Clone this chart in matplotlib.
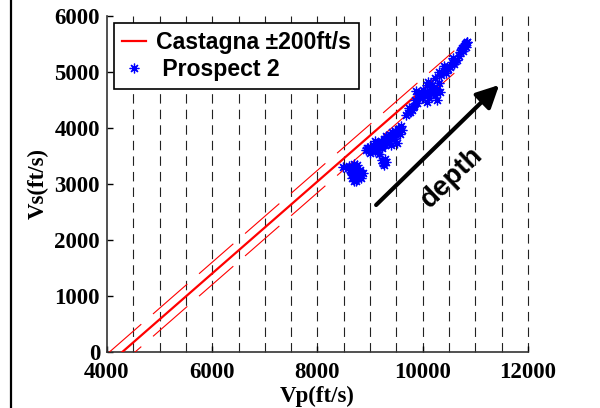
import numpy as np
import matplotlib
matplotlib.use("Agg")
import matplotlib.pyplot as plt
from matplotlib.lines import Line2D

# Castagna mudrock line (center) and +-200 ft/s band
line_vp = np.array([4000, 10600])
line_vs = np.array([-239, 5180])
band = 200

# Prospect 2 well log points (Vp, Vs in ft/s)
prospect_vp = np.array([
    # shallow cluster
    8480, 8580, 8620, 8680, 8720, 8650, 8700, 8760, 8800, 8740, 8820, 8860, 8690, 8600,
    8640, 8710, 8780, 8660, 8750, 8830, 8700, 8790,
    # middle band
    8920, 8960, 8990, 9030, 9060, 9090, 9120, 9150, 9160, 9200, 9230, 9260, 9290, 9310,
    9340, 9370, 9400, 9420, 9450, 9480, 9510, 9530, 9560, 9590, 9610, 9100,
    8940, 9010, 9070, 9130, 9180, 9240, 9320, 9390, 9440, 9500, 9550, 9050,
    # isolated patch
    9220, 9250, 9280, 9260, 9300, 9240,
    # upper band
    9690, 9728, 9760, 9791, 9830, 9860, 9888, 9920, 9982, 9870, 9740, 9810, 9950,
    10013, 10076, 10108, 10150, 10171, 10236, 10236, 10266, 10076, 10300, 10330, 10200,
    10040, 10120, 10190, 10280, 10100,
    10300, 10350, 10400, 10426, 10450, 10521, 10580, 10600, 10646, 10680,
    10480, 10550, 10620,
    # deepest streak
    10711, 10730, 10760, 10774, 10800, 10820, 10838, 10840, 10745, 10790, 10815,
])
prospect_vs = np.array([
    3310, 3290, 3250, 3300, 3230, 3170, 3120, 3180, 3250, 3060, 3100, 3200, 3360, 3330,
    3210, 3280, 3130, 3100, 3340, 3160, 3050, 3220,
    3600, 3650, 3560, 3620, 3700, 3590, 3660, 3720, 3530, 3760, 3640, 3800, 3700, 3850,
    3760, 3880, 3690, 3920, 3800, 3950, 3740, 3990, 3900, 4030, 3960, 3760,
    3640, 3600, 3660, 3610, 3690, 3720, 3780, 3820, 3870, 3880, 3950, 3620,
    3420, 3380, 3440, 3340, 3400, 3370,
    4230, 4262, 4291, 4321, 4400, 4500, 4441, 4600, 4530, 4660, 4350, 4380, 4560,
    4679, 4768, 4589, 4700, 4768, 4887, 4589, 4500, 4470, 4800, 4650, 4720,
    4620, 4540, 4640, 4700, 4820,
    5006, 4950, 5110, 5065, 4980, 5095, 5250, 5150, 5214, 5280,
    5060, 5180, 5200,
    5363, 5400, 5380, 5423, 5500, 5450, 5541, 5530, 5420, 5470, 5510,
])

grid_vp = np.arange(4500, 12001, 500)
xticks = [4000, 6000, 8000, 10000, 12000]
yticks = [0, 1000, 2000, 3000, 4000, 5000, 6000]

serif = {'family': 'Liberation Serif', 'weight': 'bold', 'size': 16.5}
sans = {'family': 'Liberation Sans', 'weight': 'bold'}

fig = plt.figure(figsize=(6, 4.08), dpi=100)
ax = fig.add_axes([0.1783, 0.1373, 0.7017, 0.8235])

# vertical dashed guide lines
ax.vlines(grid_vp, 0, 6000, colors='#222222', linewidth=0.8,
          linestyles=(0, (8.5, 5.5)), clip_on=False, zorder=1)

ax.plot(line_vp, line_vs, color='red', lw=1.6, zorder=3)
ax.plot(line_vp, line_vs + band, color='red', lw=0.8, ls=(0, (41, 14)), zorder=3)
ax.plot(line_vp, line_vs - band, color='red', lw=0.8, ls=(0, (41, 14)), zorder=3)

ax.plot(prospect_vp, prospect_vs, ls='none', marker=(8, 2, 0), ms=7, mew=0.9,
        color='blue', zorder=4)

# depth arrow
ax.annotate('', xy=(11452, 4768), xytext=(9114, 2625),
            arrowprops=dict(arrowstyle='-|>', lw=3, color='k', mutation_scale=34,
                            shrinkA=0, shrinkB=0), zorder=5)
ax.text(10550, 3110, 'depth', rotation=44, ha='center', va='center',
        fontsize=20, **sans)

ax.set_xlim(4000, 12000)
ax.set_ylim(0, 6000)
ax.set_xticks(xticks)
ax.set_yticks(yticks)
ax.set_xticklabels([str(t) for t in xticks], fontdict=serif)
ax.set_yticklabels([str(t) for t in yticks], fontdict=serif)
ax.tick_params(axis='y', direction='in', length=4, width=1, pad=5)
ax.tick_params(axis='x', direction='in', length=4, width=1, pad=7)
ax.set_xlabel('Vp(ft/s)', fontdict=serif, labelpad=2)
ax.set_ylabel('Vs(ft/s)', fontdict=serif, labelpad=4)
for s in ['top', 'right']:
    ax.spines[s].set_visible(False)
for s in ['left', 'bottom']:
    ax.spines[s].set_linewidth(1.2)
    ax.spines[s].set_color('#333333')

handles = [Line2D([], [], color='red', lw=1.6),
           Line2D([], [], ls='none', marker=(8, 2, 0), ms=7, mew=0.9, color='blue')]
leg = ax.legend(handles, ['Castagna \u00b1200ft/s', ' Prospect 2'],
                loc='upper left', bbox_to_anchor=(0.0166, 0.979), borderaxespad=0,
                prop={'family': 'Liberation Sans', 'weight': 'bold', 'size': 16.6},
                handlelength=1.05, handletextpad=0.45, borderpad=0.33,
                labelspacing=0.2, fancybox=False, framealpha=1)
leg.get_frame().set_edgecolor('black')
leg.get_frame().set_linewidth(1.2)
leg.set_zorder(6)

# outer frame line at the left edge of the picture
fig.add_artist(Line2D([11 / 600, 11 / 600], [0, 1], color='black', lw=1.6))

fig.savefig('out.png', dpi=100)
